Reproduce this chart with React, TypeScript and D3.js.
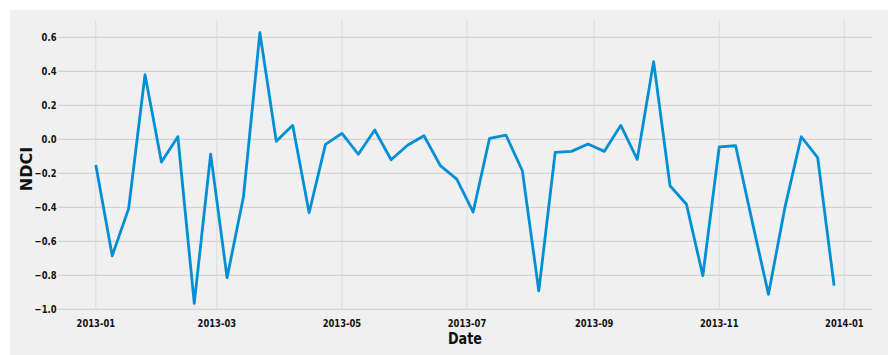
import React from "react";
import * as d3 from "d3";

const dates: string[] = [
  "2013-01-01","2013-01-09","2013-01-17","2013-01-25","2013-02-02","2013-02-10","2013-02-18","2013-02-26",
  "2013-03-06","2013-03-14","2013-03-22","2013-03-30","2013-04-07","2013-04-15","2013-04-23",
  "2013-05-01","2013-05-09","2013-05-17","2013-05-25","2013-06-02","2013-06-10","2013-06-18","2013-06-26",
  "2013-07-04","2013-07-12","2013-07-20","2013-07-28","2013-08-05","2013-08-13","2013-08-21","2013-08-29",
  "2013-09-06","2013-09-14","2013-09-22","2013-09-30","2013-10-08","2013-10-16","2013-10-24",
  "2013-11-01","2013-11-09","2013-11-17","2013-11-25","2013-12-03","2013-12-11","2013-12-19","2013-12-27",
];

const ndci: number[] = [
  -0.151, -0.685, -0.408, 0.38, -0.134, 0.015, -0.965, -0.087,
  -0.814, -0.338, 0.627, -0.012, 0.082, -0.432, -0.03,
  0.035, -0.088, 0.055, -0.12, -0.035, 0.021, -0.155, -0.234,
  -0.428, 0.006, 0.024, -0.185, -0.892, -0.077, -0.071, -0.028,
  -0.071, 0.082, -0.118, 0.457, -0.273, -0.382, -0.802,
  -0.045, -0.038, -0.48, -0.912, -0.402, 0.015, -0.108, -0.861,
];

const yTicks: number[] = [-1.0, -0.8, -0.6, -0.4, -0.2, 0.0, 0.2, 0.4, 0.6];
const xTickLabels: string[] = ["2013-01", "2013-03", "2013-05", "2013-07", "2013-09", "2013-11", "2014-01"];

const W = 890;
const H = 355;
const FONT = "'DejaVu Sans', sans-serif";

export default function App() {
  const parse = d3.utcParse("%Y-%m-%d");
  const data = dates.map((d, i) => ({ date: parse(d) as Date, v: ndci[i] }));

  const x = d3
    .scaleUtc()
    .domain([parse("2012-12-14") as Date, parse("2014-01-14") as Date])
    .range([58.9, 871]);
  const y = d3.scaleLinear().domain([-1, 0.6]).range([309.3, 37.3]);

  const plotLeft = 58;
  const plotRight = 872;
  const plotTop = 20;
  const plotBottom = 310;

  const line = d3
    .line<{ date: Date; v: number }>()
    .x((d) => x(d.date))
    .y((d) => y(d.v));

  const xTicks = xTickLabels.map((s) => parse(s + "-01") as Date);
  const fmtY = (v: number) => d3.format(".1f")(v).replace("-", "\u2212");

  return (
    <svg
      width={W}
      height={H}
      style={{ position: "absolute", left: 0, top: 0, display: "block" }}
      fontFamily={FONT}
    >
      <rect x={0} y={0} width={W} height={H} fill="#ffffff" />
      <rect x={10} y={10} width={878} height={345} fill="#f0f0f0" />

      {/* horizontal gridlines */}
      {yTicks.map((t) => (
        <line
          key={"h" + t}
          x1={plotLeft}
          x2={plotRight}
          y1={y(t)}
          y2={y(t)}
          stroke="#d4d4d4"
          strokeWidth={1.2}
        />
      ))}
      {/* vertical gridlines */}
      {xTicks.map((t, i) => (
        <line
          key={"v" + i}
          x1={x(t)}
          x2={x(t)}
          y1={plotTop}
          y2={plotBottom}
          stroke="#dcdcdc"
          strokeWidth={1}
        />
      ))}

      <path
        d={line(data) || ""}
        fill="none"
        stroke="#008fd5"
        strokeWidth={2.8}
        strokeLinejoin="round"
      />

      {/* y tick labels */}
      {yTicks.map((t) => (
        <text
          key={"yl" + t}
          transform={`translate(56.5,${y(t) + 3.8}) scale(0.8,1)`}
          textAnchor="end"
          fontSize={10.5}
          fontWeight="bold"
          fill="#111"
        >
          {fmtY(t)}
        </text>
      ))}

      {/* x tick labels */}
      {xTicks.map((t, i) => (
        <text
          key={"xl" + i}
          transform={`translate(${x(t)},327) scale(0.8,1)`}
          textAnchor="middle"
          fontSize={10.5}
          fontWeight="bold"
          fill="#111"
        >
          {xTickLabels[i]}
        </text>
      ))}

      {/* axis labels */}
      <text
        transform={`translate(465,343.5) scale(0.8,1)`}
        textAnchor="middle"
        fontSize={16}
        fontWeight="bold"
        fill="#111"
      >
        Date
      </text>
      <text
        transform={`translate(32.3,169) rotate(-90)`}
        textAnchor="middle"
        fontSize={16}
        fontWeight="bold"
        fill="#111"
      >
        NDCI
      </text>
    </svg>
  );
}
